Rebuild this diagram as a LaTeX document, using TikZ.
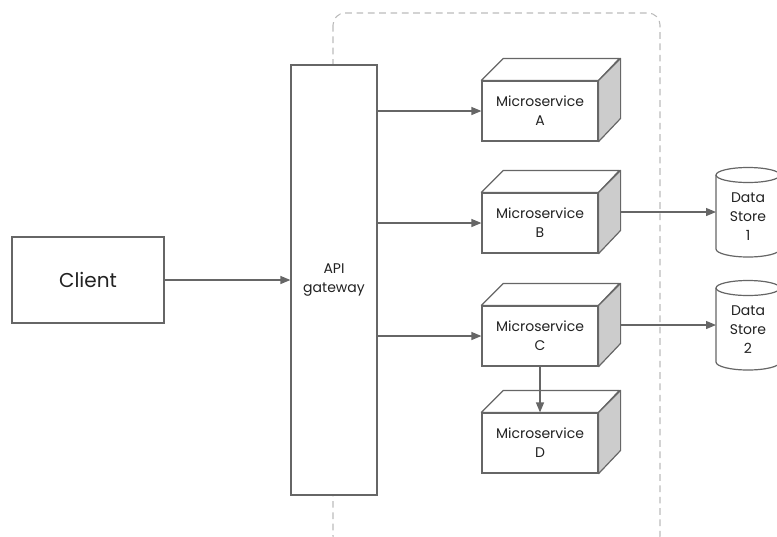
\documentclass[tikz,border=0pt]{standalone}
\usepackage{fontspec}
\setmainfont{Poppins}
\usetikzlibrary{arrows.meta,calc}
\definecolor{edgegray}{HTML}{666666}
\definecolor{sidegray}{HTML}{CCCCCC}
\definecolor{zonegray}{HTML}{BBBBBB}
\definecolor{txt}{HTML}{222222}
\begin{document}
\begin{tikzpicture}[x=0.75pt,y=-0.75pt,
  box/.style={draw=edgegray, line width=0.9pt, fill=white, text=txt, align=center,
    font=\fontsize{10.5}{14.25}\selectfont},
  msbox/.style={box, minimum width=87pt, minimum height=45pt, inner sep=0pt},
  flow/.style={draw=edgegray, line width=0.9pt, -{Triangle[length=7.5pt,width=6pt]}},
  face/.style={draw=edgegray, line width=0.9pt, line join=round},
  storetext/.style={text=txt, align=center, font=\fontsize{10.5}{14.25}\selectfont, inner sep=0pt}]
\useasboundingbox (0,0) rectangle (777,536);

% service zone
\draw[zonegray, line width=0.8pt, dash pattern=on 5pt off 3.5pt, rounded corners=9pt]
  (333,13) rectangle (660,548);

% client and gateway
\node[box, minimum width=114pt, minimum height=64.5pt, inner sep=0pt,
  font=\fontsize{15}{18}\selectfont] (client) at (88,280) {Client};
\node[box, minimum width=64.5pt, minimum height=322.5pt, inner sep=0pt] (gw) at (334,280) {API\\gateway};

% microservices (front faces)
\node[msbox] (msa) at (540,111) {Microservice\\A};
\node[msbox] (msb) at (540,223) {Microservice\\B};
\node[msbox] (msc) at (540,336) {Microservice\\C};
\node[msbox] (msd) at (540,443) {Microservice\\D};

% top and side faces of each microservice block
\foreach \n in {msa,msb,msc,msd}{
  \draw[face, fill=white] (\n.north west) -- ++(22,-22) -- ++(116,0) -- (\n.north east) -- cycle;
  \draw[face, fill=sidegray] (\n.north east) -- ++(22,-22) -- ++(0,60) -- (\n.south east) -- cycle;
  \coordinate (\n-side) at ($(\n.east)+(22,-11)$);
}

% data store cylinders
\foreach \y in {212,325}{
  \draw[face, fill=white] (716,\y-37) -- (716,\y+37)
    arc[start angle=180, end angle=0, x radius=32, y radius=8] -- (780,\y-37);
  \draw[face, fill=white] (748,\y-37) ellipse[x radius=32, y radius=7.5];
}
\node[storetext] (ds1) at (748,217) {Data\\Store\\1};
\node[storetext] (ds2) at (748,330) {Data\\Store\\2};
\coordinate (ds1-in) at (716,212);
\coordinate (ds2-in) at (716,325);

% connectors
\draw[flow] (client) -- (gw.west |- client);
\draw[flow] (gw.east |- msa) -- (msa);
\draw[flow] (gw.east |- msb) -- (msb);
\draw[flow] (gw.east |- msc) -- (msc);
\draw[flow] (msc) -- (msd);
\draw[flow] (msb-side) -- (ds1-in);
\draw[flow] (msc-side) -- (ds2-in);
\end{tikzpicture}
\end{document}
